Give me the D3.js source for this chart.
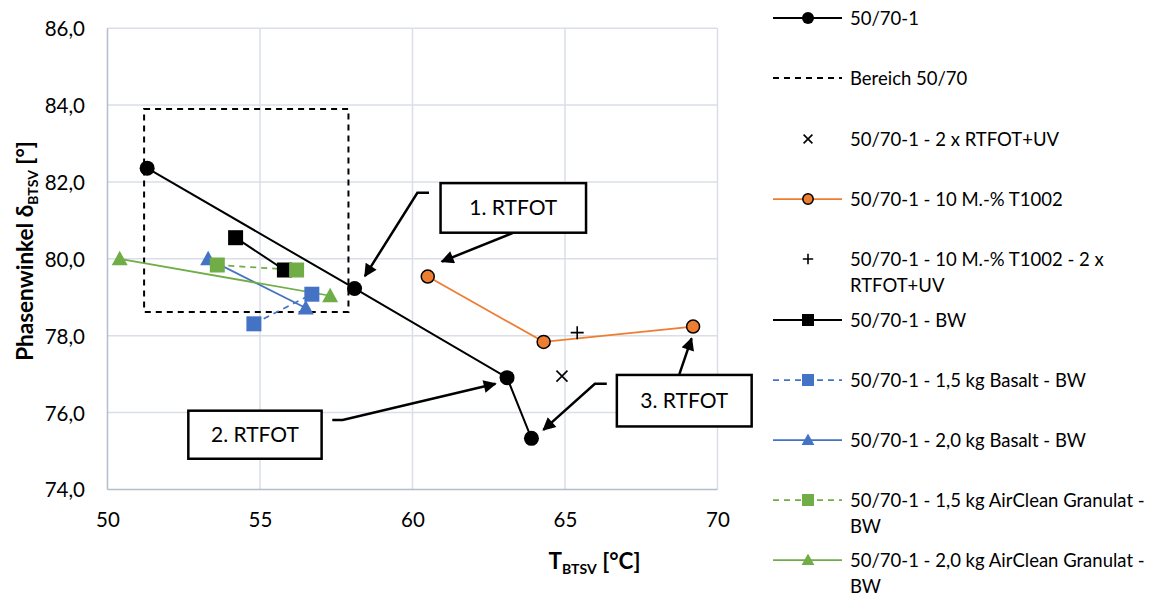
<!DOCTYPE html>
<html>
<head>
<meta charset="utf-8">
<script src="https://cdn.jsdelivr.net/npm/d3@7"></script>
<style>
  body { margin: 0; background: #fff; }
  svg { display: block; }
  text { font-family: Lato, "Open Sans", sans-serif; fill: #000; }
</style>
</head>
<body>
<svg id="chart" width="1159" height="597"></svg>
<script>
// ---- Data (T_BTSV in °C, phase angle δ_BTSV in °) ----
const xTicks = [50, 55, 60, 65, 70];
const yTicks = [74, 76, 78, 80, 82, 84, 86];

const base_x = [51.3, 58.1, 63.1, 63.9];
const base_y = [82.36, 79.23, 76.91, 75.33];

const bereich_x = [51.2, 57.9];
const bereich_y = [78.62, 83.9];

const uv_x = [64.9];
const uv_y = [76.95];

const t1002_x = [60.5, 64.3, 69.2];
const t1002_y = [79.54, 77.84, 78.24];

const t1002uv_x = [65.4];
const t1002uv_y = [78.08];

const bw_x = [54.2, 55.8];
const bw_y = [80.55, 79.71];

const bas15_x = [54.8, 56.7];
const bas15_y = [78.31, 79.08];

const bas20_x = [53.3, 56.5];
const bas20_y = [80.0, 78.72];

const ac15_x = [53.6, 56.2];
const ac15_y = [79.84, 79.71];

const ac20_x = [50.4, 57.3];
const ac20_y = [80.0, 79.04];

// Callout boxes and arrows (data coordinates)
const calloutLabels = ["1. RTFOT", "2. RTFOT", "3. RTFOT"];
const calloutBoxes = [
  { x0: 60.92, x1: 65.69, y0: 80.68, y1: 81.97 },
  { x0: 52.65, x1: 57.02, y0: 74.80, y1: 76.05 },
  { x0: 66.70, x1: 71.12, y0: 75.64, y1: 76.98 }
];
const calloutArrows = [
  [[63.28, 80.67], [60.96, 79.93]],
  [[60.54, 81.72], [60.16, 81.72], [58.44, 79.55]],
  [[57.37, 75.81], [57.71, 75.81], [62.72, 76.75]],
  [[68.75, 77.00], [69.15, 77.93]],
  [[66.37, 76.75], [65.98, 76.75], [64.29, 75.55]]
];

// ---- Series styling ----
const ORANGE = "#ed7d31", BLUE = "#4472c4", GREEN = "#70ad47";
const series = [
  { name: ["50/70-1"], xs: base_x, ys: base_y, color: "#000", line: true, dash: null, marker: "circle", mfill: "#000", mstroke: "#000", msize: 7.5, lw: 2 },
  { name: ["Bereich 50/70"], legendOnly: true, color: "#000", line: true, dash: "6,5", marker: null, lw: 2 },
  { name: ["50/70-1 - 2 x RTFOT+UV"], xs: uv_x, ys: uv_y, color: "#000", line: false, marker: "x", mfill: "none", mstroke: "#000", msize: 5.5 },
  { name: ["50/70-1 - 10 M.-% T1002"], xs: t1002_x, ys: t1002_y, color: ORANGE, line: true, dash: null, marker: "circle", mfill: ORANGE, mstroke: "#000", msize: 6.5, lw: 1.75 },
  { name: ["50/70-1 - 10 M.-% T1002 - 2 x", "RTFOT+UV"], xs: t1002uv_x, ys: t1002uv_y, color: "#000", line: false, marker: "plus", mfill: "none", mstroke: "#000", msize: 6.5 },
  { name: ["50/70-1 - BW"], xs: bw_x, ys: bw_y, color: "#000", line: true, dash: null, marker: "square", mfill: "#000", mstroke: "#000", msize: 7.5, lw: 2 },
  { name: ["50/70-1 - 1,5 kg Basalt - BW"], xs: bas15_x, ys: bas15_y, color: BLUE, line: true, dash: "6,5", marker: "square", mfill: BLUE, mstroke: BLUE, msize: 7.5, lw: 1.75 },
  { name: ["50/70-1 - 2,0 kg Basalt - BW"], xs: bas20_x, ys: bas20_y, color: BLUE, line: true, dash: null, marker: "triangle", mfill: BLUE, mstroke: BLUE, msize: 8, lw: 1.75 },
  { name: ["50/70-1 - 1,5 kg AirClean Granulat -", "BW"], xs: ac15_x, ys: ac15_y, color: GREEN, line: true, dash: "6,5", marker: "square", mfill: GREEN, mstroke: GREEN, msize: 7.5, lw: 1.75 },
  { name: ["50/70-1 - 2,0 kg AirClean Granulat -", "BW"], xs: ac20_x, ys: ac20_y, color: GREEN, line: true, dash: null, marker: "triangle", mfill: GREEN, mstroke: GREEN, msize: 8, lw: 1.75 }
];

// ---- Layout ----
const svg = d3.select("#chart");
const x = d3.scaleLinear().domain([50, 70]).range([107.5, 717.5]);
const y = d3.scaleLinear().domain([74, 86]).range([489.5, 28.2]);
const fmtY = v => d3.format(".1f")(v).replace(".", ",");

const GRID = "#d9dee7";
const AXIS = "#b4bdcc";

// Gridlines
const grid = svg.append("g");
grid.selectAll("line.h").data(yTicks.filter(v => v > 74)).join("line")
  .attr("x1", x(50)).attr("x2", x(70))
  .attr("y1", d => y(d)).attr("y2", d => y(d))
  .attr("stroke", GRID).attr("stroke-width", 1.5);
grid.selectAll("line.v").data(xTicks.filter(v => v > 50)).join("line")
  .attr("x1", d => x(d)).attr("x2", d => x(d))
  .attr("y1", y(74)).attr("y2", y(86))
  .attr("stroke", GRID).attr("stroke-width", 1.5);

// Axis lines
svg.append("line").attr("x1", x(50)).attr("x2", x(70)).attr("y1", y(74)).attr("y2", y(74))
  .attr("stroke", AXIS).attr("stroke-width", 1.5);
svg.append("line").attr("x1", x(50)).attr("x2", x(50)).attr("y1", y(74)).attr("y2", y(86))
  .attr("stroke", AXIS).attr("stroke-width", 1.5);

// Tick labels via d3 axes (domain and tick lines hidden)
const yAxis = svg.append("g").attr("transform", "translate(85,0)")
  .call(d3.axisLeft(y).tickValues(yTicks).tickFormat(fmtY).tickSize(0).tickPadding(0));
const xAxis = svg.append("g").attr("transform", "translate(0,520)")
  .call(d3.axisBottom(x).tickValues(xTicks).tickFormat(d3.format("d")).tickSize(0).tickPadding(0));
[yAxis, xAxis].forEach(a => {
  a.select(".domain").remove();
  a.selectAll("text").style("font-family", "Lato, sans-serif").style("font-size", "20.5px").attr("fill", "#000");
});
yAxis.selectAll("text").attr("dy", "0.36em");
xAxis.selectAll("text").attr("y", 0).attr("dy", "0.36em");

// Axis titles
const yTitle = svg.append("text")
  .attr("transform", "translate(33,251) rotate(-90)")
  .attr("text-anchor", "middle")
  .style("font-size", "22.5px").style("font-weight", "bold");
yTitle.append("tspan").text("Phasenwinkel  δ");
yTitle.append("tspan").text("BTSV").style("font-size", "14px").attr("dy", 5);
yTitle.append("tspan").text(" [°]").attr("dy", -5);

const xTitle = svg.append("text")
  .attr("x", 594.5).attr("y", 569)
  .attr("text-anchor", "middle")
  .style("font-size", "22.5px").style("font-weight", "bold");
xTitle.append("tspan").text("T");
xTitle.append("tspan").text("BTSV").style("font-size", "14px").attr("dy", 5);
xTitle.append("tspan").text(" [°C]").attr("dy", -5);

// Reference range box "Bereich 50/70"
svg.append("rect")
  .attr("x", x(bereich_x[0])).attr("y", y(bereich_y[1]))
  .attr("width", x(bereich_x[1]) - x(bereich_x[0]))
  .attr("height", y(bereich_y[0]) - y(bereich_y[1]))
  .attr("fill", "none").attr("stroke", "#000").attr("stroke-width", 2)
  .attr("stroke-dasharray", "6,5");

// Marker drawing
function markerPath(shape, s) {
  switch (shape) {
    case "square": return `M${-s},${-s}H${s}V${s}H${-s}Z`;
    case "triangle": return `M0,${-s}L${s},${s * 0.8}L${-s},${s * 0.8}Z`;
    case "x": return `M${-s},${-s}L${s},${s}M${-s},${s}L${s},${-s}`;
    case "plus": return `M${-s},0H${s}M0,${-s}V${s}`;
    default: return null;
  }
}
function drawMarker(g, s, cx, cy, scale) {
  const size = s.msize * scale;
  if (s.marker === "circle") {
    g.append("circle").attr("cx", cx).attr("cy", cy).attr("r", size)
      .attr("fill", s.mfill).attr("stroke", s.mstroke).attr("stroke-width", s.mstroke === s.mfill ? 0 : 1.5);
  } else {
    const open = s.marker === "x" || s.marker === "plus";
    g.append("path").attr("transform", `translate(${cx},${cy})`)
      .attr("d", markerPath(s.marker, size))
      .attr("fill", open ? "none" : s.mfill)
      .attr("stroke", s.mstroke).attr("stroke-width", open ? 1.6 : 0);
  }
}

// Series lines then markers
const plot = svg.append("g");
const lineGen = d3.line().x(d => x(d[0])).y(d => y(d[1]));
series.filter(s => !s.legendOnly).forEach(s => {
  const pts = s.xs.map((v, i) => [v, s.ys[i]]);
  if (s.line && pts.length > 1) {
    plot.append("path").attr("d", lineGen(pts)).attr("fill", "none")
      .attr("stroke", s.color).attr("stroke-width", s.lw)
      .attr("stroke-dasharray", s.dash);
  }
});
series.filter(s => !s.legendOnly).forEach(s => {
  s.xs.forEach((v, i) => drawMarker(plot, s, x(v), y(s.ys[i]), 1));
});

// Callouts
const defs = svg.append("defs");
defs.append("marker").attr("id", "arrowhead")
  .attr("viewBox", "0 0 10 10").attr("refX", 9).attr("refY", 5)
  .attr("markerUnits", "userSpaceOnUse").attr("markerWidth", 15).attr("markerHeight", 13)
  .attr("orient", "auto")
  .append("path").attr("d", "M0,0L10,5L0,10Z").attr("fill", "#000");

const ann = svg.append("g");
calloutBoxes.forEach((b, i) => {
  ann.append("rect")
    .attr("x", x(b.x0)).attr("y", y(b.y1))
    .attr("width", x(b.x1) - x(b.x0)).attr("height", y(b.y0) - y(b.y1))
    .attr("fill", "#fff").attr("stroke", "#000").attr("stroke-width", 2.5);
  ann.append("text")
    .attr("x", (x(b.x0) + x(b.x1)) / 2).attr("y", (y(b.y0) + y(b.y1)) / 2)
    .attr("dy", "0.36em").attr("text-anchor", "middle")
    .style("font-size", "21px").text(calloutLabels[i]);
});
const arrowLine = d3.line().x(d => x(d[0])).y(d => y(d[1]));
calloutArrows.forEach(a => {
  ann.append("path").attr("d", arrowLine(a)).attr("fill", "none")
    .attr("stroke", "#000").attr("stroke-width", 2.5)
    .attr("marker-end", "url(#arrowhead)");
});

// Legend
const legend = svg.append("g");
const rowY = [18, 78, 139, 199, 259, 320, 380, 440, 500, 560];
series.forEach((s, i) => {
  const cy = rowY[i];
  const g = legend.append("g");
  if (s.line) {
    g.append("line").attr("x1", 773).attr("x2", 842).attr("y1", cy).attr("y2", cy)
      .attr("stroke", s.color).attr("stroke-width", s.lw)
      .attr("stroke-dasharray", s.dash);
  }
  if (s.marker) drawMarker(g, s, 808, cy, 0.8);
  const t = g.append("text").attr("x", 850).attr("y", cy)
    .style("font-size", "18.5px");
  s.name.forEach((ln, j) => {
    t.append("tspan").attr("x", 850).attr("dy", j === 0 ? "0.36em" : 26).text(ln);
  });
});
</script>
</body>
</html>
